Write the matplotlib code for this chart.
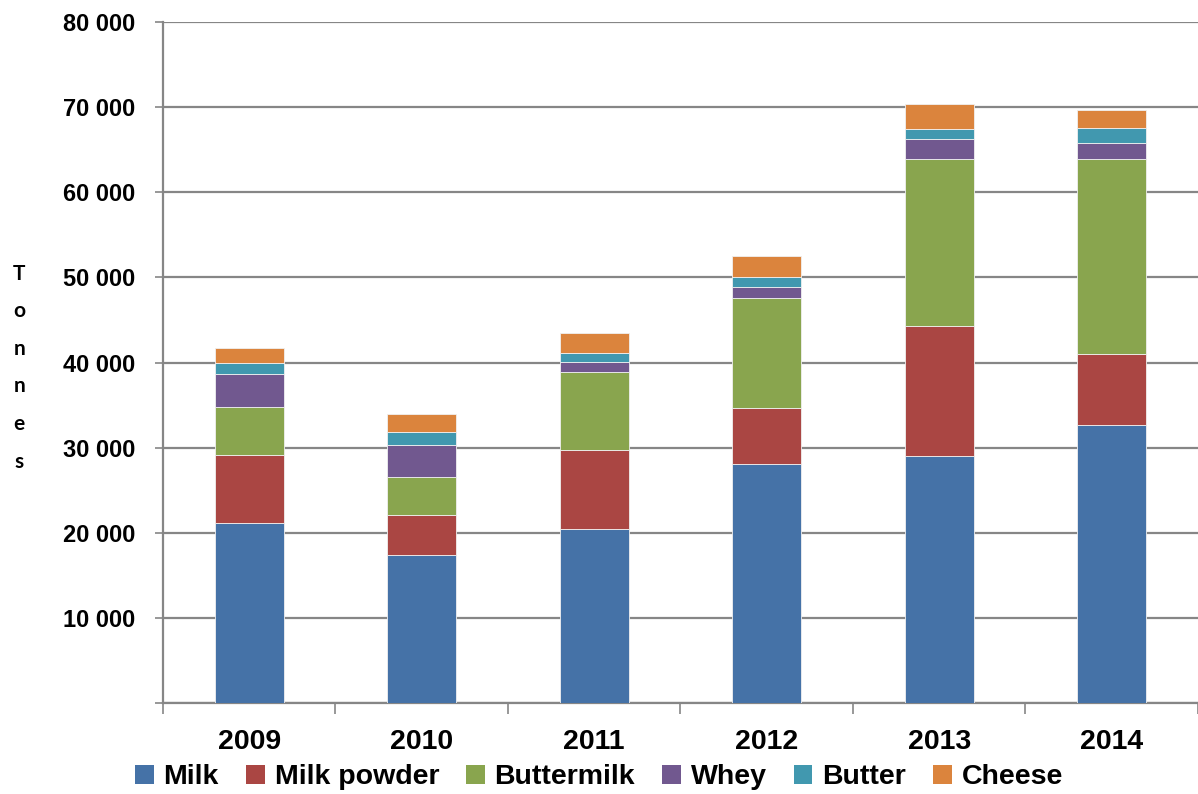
import matplotlib
matplotlib.use("Agg")
import matplotlib.pyplot as plt
from matplotlib.ticker import FuncFormatter, MultipleLocator
from matplotlib.patches import Patch
import numpy as np

years = ["2009", "2010", "2011", "2012", "2013", "2014"]
series = ["Milk", "Milk powder", "Buttermilk", "Whey", "Butter", "Cheese"]

# tonnes
milk = [21200, 17350, 20400, 28050, 29000, 32700]
milk_powder = [7900, 4700, 9300, 6650, 15300, 8350]
buttermilk = [5700, 4500, 9200, 12900, 19600, 22800]
whey = [3900, 3800, 1200, 1300, 2400, 1900]
butter = [1300, 1500, 1050, 1100, 1150, 1800]
cheese = [1700, 2100, 2350, 2500, 2950, 2150]

colors = ["#4572A7", "#AA4643", "#89A54E", "#71588F", "#4198AF", "#DB843D"]

plt.rcParams['font.family'] = ['Liberation Sans', 'DejaVu Sans']
plt.rcParams['font.weight'] = 'bold'

fig = plt.figure(figsize=(11.98, 7.94), dpi=100)
ax = fig.add_axes([0.136, 0.1146, 0.864, 0.8577])

x = np.arange(len(years))
bottom = np.zeros(len(years))
for name, vals, c in zip(series, [milk, milk_powder, buttermilk, whey, butter, cheese], colors):
    ax.bar(x, vals, 0.4, bottom=bottom, color=c, edgecolor='#f0f0f0', linewidth=0.6, zorder=3, label=name)
    bottom += np.array(vals)

ax.set_xlim(-0.5, 5.5)
ax.set_ylim(0, 80000)
ax.yaxis.set_major_locator(MultipleLocator(10000))
ax.yaxis.set_major_formatter(FuncFormatter(lambda v, p: '' if v == 0 else f"{int(v):,}".replace(',', ' ')))
ax.grid(axis='y', color='#868686', linewidth=1.6, zorder=0)

ax.set_xticks(x)
ax.set_xticklabels(years, fontsize=20.5, fontweight='bold')
ax.set_xticks(np.arange(-0.5, 6, 1), minor=True)
ax.tick_params(axis='x', which='major', length=0, pad=19)
ax.tick_params(axis='x', which='minor', length=8, width=1.2, color='#868686', direction='out')
ax.tick_params(axis='y', length=6, width=1.2, color='#868686', direction='out', pad=14, labelsize=17)
for lab in ax.get_yticklabels():
    lab.set_fontweight('bold')

for s in ['top', 'right']:
    ax.spines[s].set_visible(False)
for s in ['left', 'bottom']:
    ax.spines[s].set_color('#868686')
    ax.spines[s].set_linewidth(1.6)

# vertical stacked axis title
fig.text(0.016, 0.668, "T\no\nn\nn\ne\ns", fontsize=15, fontweight='bold', family=['Lato', 'DejaVu Sans'],
         ha='center', va='top', linespacing=2.1)

handles = [Patch(facecolor=c, edgecolor='none') for c in colors]
fig.legend(handles, series, loc='center', bbox_to_anchor=(0.5, 0.021), ncol=6, frameon=False,
           handlelength=0.65, handleheight=0.65, handletextpad=0.35, columnspacing=0.95,
           prop={'weight': 'bold', 'size': 20.5})

fig.savefig("out.png", dpi=100)
